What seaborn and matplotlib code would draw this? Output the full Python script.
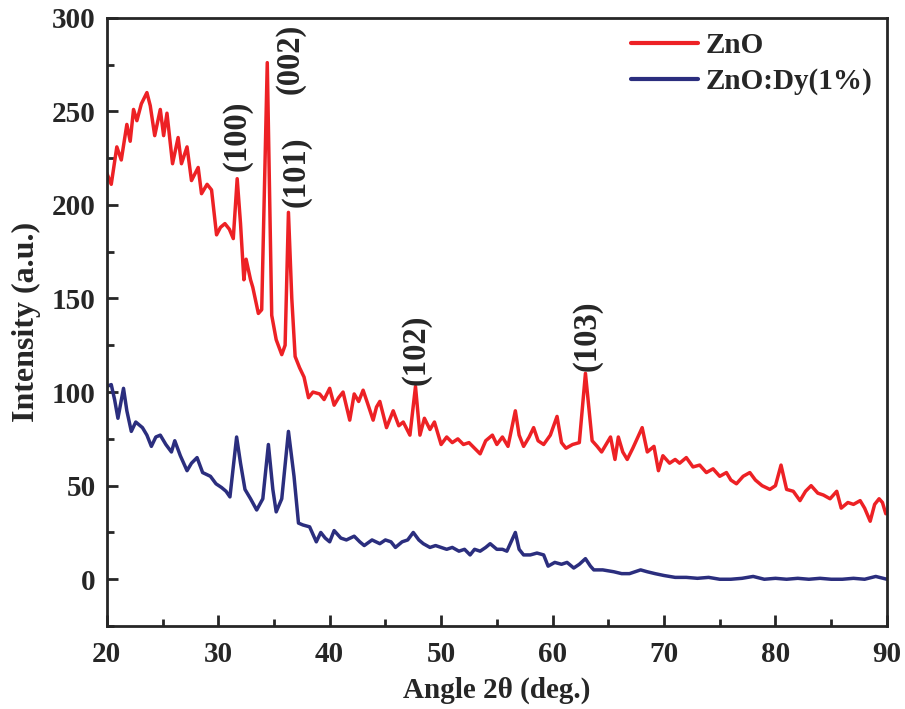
import matplotlib
matplotlib.use("Agg")
import matplotlib.pyplot as plt
import seaborn as sns
import pandas as pd
from matplotlib.ticker import MultipleLocator

# ZnO pattern (red)
zno_angle = [20.0, 20.4, 20.9, 21.3, 21.8, 22.1, 22.4, 22.7, 23.1, 23.6, 23.9, 24.3, 24.8, 25.1, 25.4,
             25.9, 26.4, 26.7, 27.2, 27.6, 28.2, 28.5, 29.0, 29.4, 29.85, 30.2, 30.6, 31.0, 31.35, 31.7,
             32.0, 32.3, 32.5, 32.9, 33.1, 33.6, 33.9, 34.4, 34.8, 35.2, 35.7, 36.0, 36.3, 36.6, 36.9,
             37.3, 37.7, 38.1, 38.5, 39.1, 39.5, 40.0, 40.4, 40.8, 41.2, 41.8, 42.2, 42.6, 43.0, 43.4,
             43.9, 44.2, 44.5, 44.8, 45.1, 45.7, 46.2, 46.6, 47.2, 47.7, 48.1, 48.5, 49.0, 49.4, 50.0,
             50.5, 51.0, 51.5, 52.0, 52.5, 53.0, 53.5, 54.0, 54.6, 55.0, 55.5, 56.0, 56.66, 57.0, 57.4,
             57.9, 58.3, 58.7, 59.2, 59.8, 60.4, 60.8, 61.2, 61.8, 62.4, 62.95, 63.55, 64.0, 64.4, 65.2,
             65.6, 65.9, 66.3, 66.7, 67.2, 68.04, 68.5, 69.1, 69.5, 69.9, 70.5, 71.0, 71.4, 72.0, 72.6,
             73.2, 73.8, 74.4, 75.0, 75.6, 76.0, 76.5, 77.1, 77.7, 78.2, 78.8, 79.5, 80.0, 80.5, 81.0,
             81.6, 82.2, 82.7, 83.2, 83.8, 84.3, 84.9, 85.5, 85.9, 86.5, 87.0, 87.6, 88.0, 88.5, 88.9,
             89.3, 89.6, 89.9]
zno_int = [217, 211, 231, 224, 243, 234, 251, 245, 254, 260, 253, 237, 251, 237, 249,
           222, 236, 222, 231, 213, 220, 206, 211, 208, 184, 188, 190, 187, 182, 214,
           190, 160, 171, 160, 156, 142, 144, 276, 141, 128, 120, 125, 196, 150, 119,
           113, 108, 97, 100, 99, 96, 102, 93, 97, 100, 85, 99, 95, 101, 94,
           85, 92, 95, 88, 81, 90, 82, 84, 77, 103, 77, 86, 80, 84, 72,
           76, 73, 75, 72, 73, 70, 67, 74, 77, 72, 76, 71, 90, 77, 71,
           76, 81, 74, 72, 77, 87, 73, 70, 72, 73, 110, 74, 71, 68, 76,
           64, 76, 68, 64, 70, 81, 68, 71, 58, 66, 62, 64, 62, 65, 60,
           61, 57, 59, 55, 57, 53, 51, 55, 57, 53, 50, 48, 50, 61, 48,
           47, 42, 47, 50, 46, 45, 43, 47, 38, 41, 40, 42, 38, 31, 40,
           43, 41, 35]

# ZnO:Dy(1%) pattern (blue)
dy_angle = [20.0, 20.4, 20.7, 21.0, 21.5, 21.8, 22.2, 22.6, 23.2, 23.6, 24.0, 24.4, 24.8, 25.3, 25.8,
            26.1, 26.6, 27.2, 27.6, 28.1, 28.6, 29.3, 29.8, 30.3, 30.7, 31.05, 31.65, 32.0, 32.4, 32.9,
            33.45, 34.0, 34.5, 34.9, 35.2, 35.7, 36.3, 36.8, 37.2, 37.6, 38.2, 38.8, 39.2, 39.6, 40.0,
            40.4, 41.0, 41.5, 42.2, 42.7, 43.1, 43.8, 44.5, 45.0, 45.5, 45.9, 46.5, 47.0, 47.5, 48.0,
            48.4, 49.0, 49.5, 50.5, 51.0, 51.6, 52.1, 52.6, 53.0, 53.5, 54.0, 54.4, 55.0, 55.5, 55.9,
            56.66, 57.0, 57.4, 58.0, 58.6, 59.2, 59.6, 60.2, 60.8, 61.3, 61.9, 62.4, 62.95, 63.4, 63.7,
            64.5, 65.5, 66.2, 66.9, 67.4, 67.9, 68.5, 69.2, 70.0, 71.0, 72.0, 73.0, 74.0, 75.0, 76.0,
            77.0, 78.0, 79.0, 80.0, 81.0, 82.0, 83.0, 84.0, 85.0, 86.0, 87.0, 88.0, 89.0, 90.0]
dy_int = [103, 104, 96, 86, 102, 90, 79, 84, 81, 77, 71, 76, 77, 72, 68,
          74, 66, 58, 62, 65, 57, 55, 51, 49, 47, 44, 76, 62, 48, 43,
          37, 43, 72, 48, 36, 43, 79, 55, 30, 29, 28, 20, 25, 22, 20,
          26, 22, 21, 23, 20, 18, 21, 19, 21, 20, 17, 20, 21, 25, 21,
          19, 17, 18, 16, 17, 15, 16, 13, 16, 15, 17, 19, 16, 16, 15,
          25, 16, 13, 13, 14, 13, 7, 9, 8, 9, 6, 8, 11, 7, 5,
          5, 4, 3, 3, 4, 5, 4, 3, 2, 1, 1, 0.5, 1, 0, 0,
          0.5, 1.5, 0, 0.5, 0, 0.5, 0, 0.5, 0, 0, 0.5, 0, 1.5, 0]

# peak labels
peak_labels = ["(100)", "(002)", "(101)", "(102)", "(103)"]
peak_x = [31.7, 36.45, 37.0, 47.8, 63.1]
peak_y = [218, 259, 199, 104, 111]

df = pd.concat([
    pd.DataFrame({"angle": zno_angle, "intensity": zno_int, "sample": "ZnO"}),
    pd.DataFrame({"angle": dy_angle, "intensity": dy_int, "sample": "ZnO:Dy(1%)"}),
])

sns.set_style("ticks")
plt.rcParams["font.family"] = ["Liberation Serif", "DejaVu Serif"]
plt.rcParams["font.weight"] = "bold"

fig = plt.figure(figsize=(9.05, 7.09), dpi=100)
ax = fig.add_axes([0.118, 0.117, 0.862, 0.858])

sns.lineplot(data=df, x="angle", y="intensity", hue="sample", sort=False,
             palette={"ZnO": "#ED2125", "ZnO:Dy(1%)": "#2B2E7E"}, linewidth=2.5, ax=ax)

# vertical hkl labels above the peaks
for lab, px, py in zip(peak_labels, peak_x, peak_y):
    ax.text(px, py, lab, rotation=90, ha="center", va="bottom", fontsize=23.5, fontweight="bold")

ax.set_xlim(20, 90)
ax.set_ylim(-25, 300)
ax.xaxis.set_major_locator(MultipleLocator(10))
ax.xaxis.set_minor_locator(MultipleLocator(5))
ax.yaxis.set_major_locator(MultipleLocator(50))
ax.yaxis.set_minor_locator(MultipleLocator(25))
ax.tick_params(which="both", direction="in", width=2, labelsize=21)
ax.tick_params(axis="x", which="both", pad=11)
ax.tick_params(axis="y", which="both", pad=8)
ax.tick_params(which="major", length=8)
ax.tick_params(which="minor", length=5)
for s in ax.spines.values():
    s.set_linewidth(2)
    s.set_visible(True)

ax.set_xlabel("Angle 2θ (deg.)", fontsize=21, fontweight="bold", labelpad=6)
ax.set_ylabel("Intensity (a.u.)", fontsize=23, fontweight="bold", labelpad=8)

leg = ax.legend(loc="upper right", frameon=False, fontsize=21, handlelength=2.3,
                handletextpad=0.25, labelspacing=0.3, borderaxespad=0.1)
for line in leg.get_lines():
    line.set_linewidth(3)

fig.savefig("out.png", dpi=100)
